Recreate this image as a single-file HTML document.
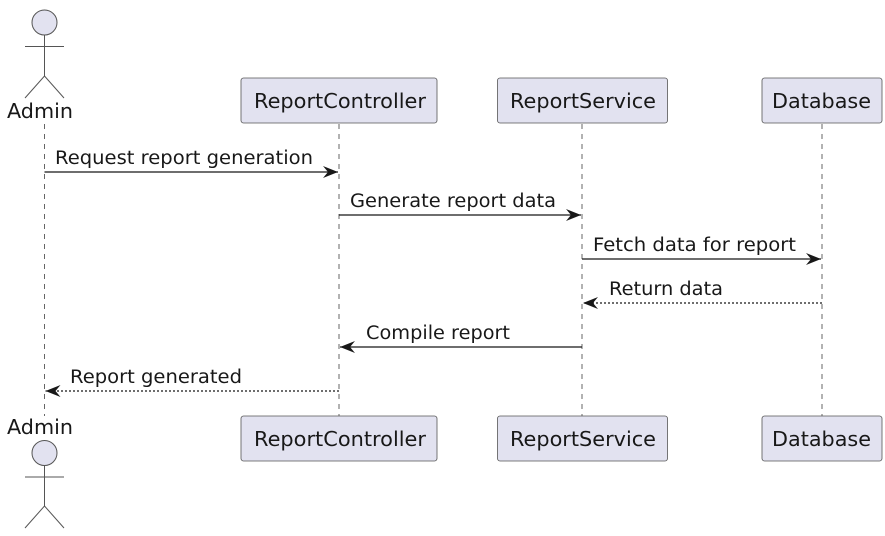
<!DOCTYPE html>
<html><head><meta charset="utf-8"><style>
html,body{margin:0;padding:0;background:#fff;}
svg{display:block;}
text{font-family:"DejaVu Sans","Liberation Sans",sans-serif;fill:#181818;}
</style></head><body>
<svg width="885" height="536" viewBox="0 0 885 536" xmlns="http://www.w3.org/2000/svg">
<defs>
<marker id="ah" viewBox="0 0 16 12" refX="15" refY="6" markerWidth="16" markerHeight="12" markerUnits="userSpaceOnUse" orient="auto">
<path d="M0,0 L15,6 L0,12 L5,6 Z" fill="#181818"/>
</marker>
</defs>
<!-- lifelines -->
<g stroke="#666" stroke-width="1" stroke-dasharray="5,5">
<line x1="44.5" y1="124" x2="44.5" y2="416"/>
<line x1="339" y1="124" x2="339" y2="416"/>
<line x1="582" y1="124" x2="582" y2="416"/>
<line x1="822" y1="124" x2="822" y2="416"/>
</g>
<!-- participants -->
<g fill="#e2e2f0" stroke="#555" stroke-width="0.8">
<rect x="241" y="78" width="196" height="45" rx="2.5"/>
<rect x="497.5" y="78" width="170" height="45" rx="2.5"/>
<rect x="762" y="78" width="120" height="45" rx="2.5"/>
<rect x="241" y="416" width="196" height="45" rx="2.5"/>
<rect x="497.5" y="416" width="170" height="45" rx="2.5"/>
<rect x="762" y="416" width="120" height="45" rx="2.5"/>
</g>
<g font-size="20">
<text x="254" y="108" textLength="172" lengthAdjust="spacingAndGlyphs">ReportController</text>
<text x="510" y="108" textLength="146" lengthAdjust="spacingAndGlyphs">ReportService</text>
<text x="772" y="108" textLength="99" lengthAdjust="spacingAndGlyphs">Database</text>
<text x="254" y="446" textLength="172" lengthAdjust="spacingAndGlyphs">ReportController</text>
<text x="510" y="446" textLength="146" lengthAdjust="spacingAndGlyphs">ReportService</text>
<text x="772" y="446" textLength="99" lengthAdjust="spacingAndGlyphs">Database</text>
<text x="7" y="118" textLength="66" lengthAdjust="spacingAndGlyphs">Admin</text>
<text x="7" y="434" textLength="66" lengthAdjust="spacingAndGlyphs">Admin</text>
</g>
<!-- actors -->
<g stroke="#555" stroke-width="1" fill="none">
<circle cx="44.5" cy="22.5" r="12.5" fill="#e2e2f0"/>
<line x1="44.5" y1="35" x2="44.5" y2="76"/>
<line x1="25" y1="46.5" x2="64" y2="46.5"/>
<path d="M25,98 L44.5,76 L64,98"/>
<circle cx="44.5" cy="453" r="12.5" fill="#e2e2f0"/>
<line x1="44.5" y1="465.5" x2="44.5" y2="506"/>
<line x1="25" y1="477" x2="64" y2="477"/>
<path d="M25,528 L44.5,506 L64,528"/>
</g>
<!-- messages -->
<g stroke="#181818" stroke-width="1.3" fill="none">
<line x1="44.5" y1="172" x2="338" y2="172" marker-end="url(#ah)"/>
<line x1="339" y1="215" x2="581" y2="215" marker-end="url(#ah)"/>
<line x1="582" y1="259" x2="821" y2="259" marker-end="url(#ah)"/>
<line x1="822" y1="303" x2="583" y2="303" stroke-dasharray="2,2" marker-end="url(#ah)"/>
<line x1="582" y1="347" x2="340" y2="347" marker-end="url(#ah)"/>
<line x1="339" y1="391" x2="45.5" y2="391" stroke-dasharray="2,2" marker-end="url(#ah)"/>
</g>
<g font-size="18.5">
<text x="55" y="164" textLength="258" lengthAdjust="spacingAndGlyphs">Request report generation</text>
<text x="350" y="207" textLength="206" lengthAdjust="spacingAndGlyphs">Generate report data</text>
<text x="593" y="251" textLength="203" lengthAdjust="spacingAndGlyphs">Fetch data for report</text>
<text x="609" y="295" textLength="114" lengthAdjust="spacingAndGlyphs">Return data</text>
<text x="366" y="339" textLength="144" lengthAdjust="spacingAndGlyphs">Compile report</text>
<text x="70" y="383" textLength="172" lengthAdjust="spacingAndGlyphs">Report generated</text>
</g>
</svg>
</body></html>
